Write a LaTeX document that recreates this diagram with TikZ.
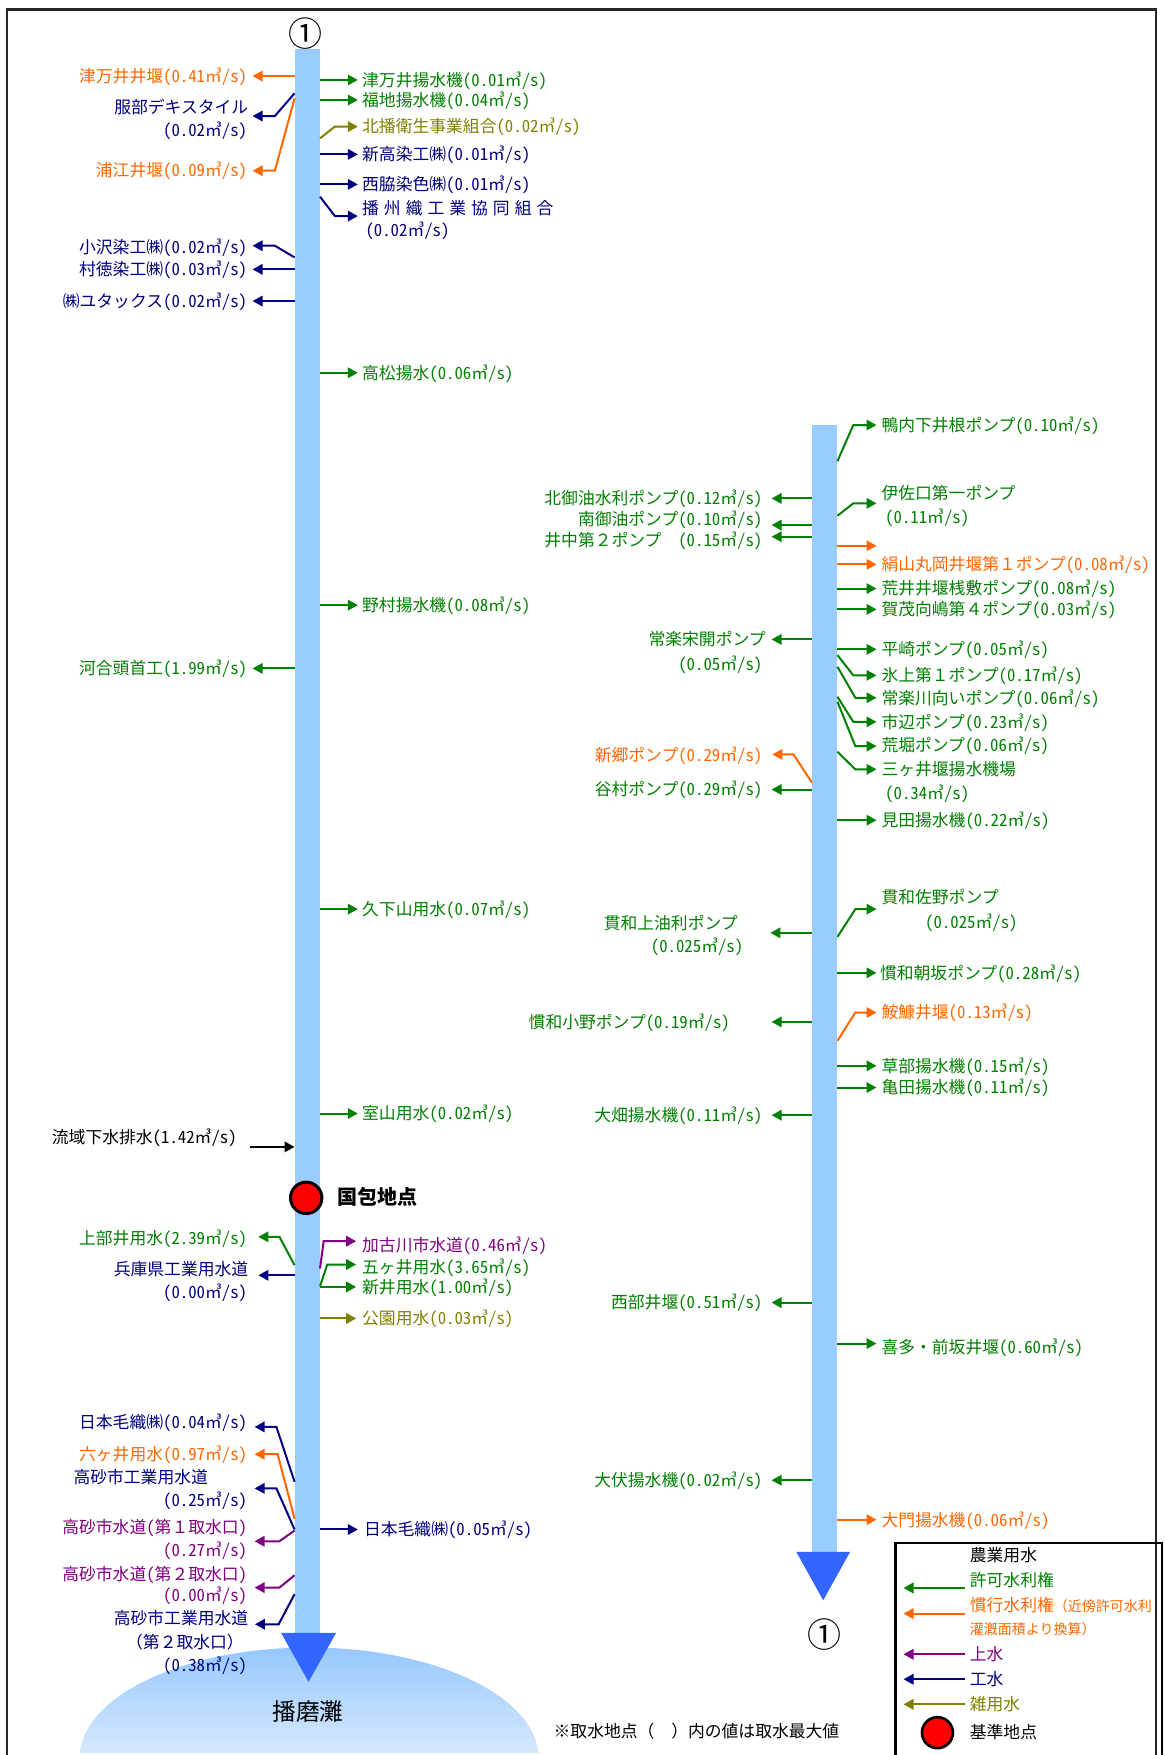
\documentclass[tikz,border=0pt]{standalone}
\usepackage{fontspec}
\setmainfont{Noto Sans CJK JP}
\newfontfamily\hw{Noto Sans CJK JP}[RawFeature=+hwid]
\usetikzlibrary{arrows.meta}
\definecolor{grn}{RGB}{0,128,0}
\definecolor{org}{RGB}{255,102,0}
\definecolor{pur}{RGB}{128,0,128}
\definecolor{nav}{RGB}{0,0,128}
\definecolor{olv}{RGB}{128,128,0}
\definecolor{riv}{RGB}{153,204,255}
\definecolor{tipb}{RGB}{51,102,255}
\definecolor{seatop}{RGB}{150,200,255}
\definecolor{seabot}{RGB}{218,234,255}
\newcommand\fs{\fontsize{8.4pt}{10pt}\selectfont}
\newcommand\q[1]{{\hw(#1}㎥{\hw/s)}}
\newcommand\hwp[1]{{\hw#1}}
\newcommand\rlab[7]{\coordinate (#1t) at (#4,#5);
  \node[lab,text=#2,anchor=west] (#1) at (#6,#5) {#7};
  \draw[arr,#2] (#3.east |- #1t) -- (#1t);}
\newcommand\llab[7]{\coordinate (#1t) at (#4,#5);
  \node[lab,text=#2,anchor=east] (#1) at (#6,#5) {#7};
  \draw[arr,#2] (#3.west |- #1t) -- (#1t);}
\tikzset{
  lab/.style={inner sep=0pt,font=\fs,text height=7.4pt,text depth=1pt},
  arr/.style={line width=1pt,-{Triangle[length=5pt,width=5.2pt]}},
  river/.style={fill=riv,inner sep=0pt,minimum width=12.32pt,anchor=north west},
  circnum/.style={font=\fontsize{17pt}{19pt}\selectfont,inner sep=0pt},
}
\begin{document}
\begin{tikzpicture}[x=0.56pt,y=-0.56pt]
\useasboundingbox (0,0) rectangle (1040.18,1566.96);
\clip (0,0) rectangle (1040.18,1566.96);

% frame
\draw[line width=1.2pt,black!85] (6.2,1600) -- (6.2,8.3) -- (1032,8.3) -- (1032,1600);

% sea
\begin{scope}
\clip (0,0) rectangle (1040,1564.5);
\shade[top color=seatop,bottom color=seabot] (71,1570) arc[start angle=180,end angle=360,x radius=205,y radius=99] -- cycle;
\end{scope}
\node[font=\fontsize{11.8pt}{13pt}\selectfont,inner sep=0pt] (sea) at (275,1528) {播磨灘};

% rivers
\node[river,minimum height=792.4pt] (L) at (263,43) {};
\fill[tipb] (251,1458) -- (300,1458) -- (275.5,1501.6) -- cycle;
\node[river,minimum height=563.4pt] (R) at (725,379.5) {};
\fill[tipb] (711,1385.6) -- (759,1385.6) -- (735,1428.9) -- cycle;
\node[circnum] (c1a) at (272.4,30.2) {①};
\node[circnum] (c1b) at (736.5,1459.5) {①};

% ---------- left river, right side ----------
\rlab{r1}{grn}{L}{319.5}{71.4}{323}{津万井揚水機\q{0.01}}
\rlab{r2}{grn}{L}{319.5}{89.3}{323}{福地揚水機\q{0.04}}
\coordinate (r3t) at (319.5,113);
\node[lab,text=olv,anchor=west] (r3) at (323,113) {北播衛生事業組合\q{0.02}};
\draw[arr,olv] (L.east |- 0,123.5) -- (299,113) -- (r3t);
\rlab{r4}{nav}{L}{319.5}{137.8}{323}{新高染工㈱\q{0.01}}
\rlab{r5}{nav}{L}{319.5}{164.6}{323}{西脇染色㈱\q{0.01}}
\coordinate (r6t) at (319.5,192.9);
\node[lab,text=nav,anchor=west] (r6) at (323,186) {播\kern2.5pt州\kern2.5pt織\kern2.5pt工\kern2.5pt業\kern2.5pt協\kern2.5pt同\kern2.5pt組\kern2.5pt合};
\node[lab,text=nav,anchor=west] (r6b) at (326,205.4) {\q{0.02}};
\draw[arr,nav] (L.east |- 0,175.6) -- (299,192.9) -- (r6t);
\rlab{r7}{grn}{L}{319.5}{332.8}{323}{高松揚水\q{0.06}}
\rlab{r8}{grn}{L}{319.5}{540.3}{323}{野村揚水機\q{0.08}}
\rlab{r9}{grn}{L}{319.5}{811.7}{323}{久下山用水\q{0.07}}
\rlab{r10}{grn}{L}{319.5}{994.2}{323}{室山用水\q{0.02}}
\coordinate (r11t) at (318,1108.2);
\node[lab,text=pur,anchor=west] (r11) at (323,1111.8) {加古川市水道\q{0.46}};
\draw[arr,pur] (L.east |- 0,1132.6) -- (289,1108.2) -- (r11t);
\coordinate (r12t) at (318,1129);
\node[lab,text=grn,anchor=west] (r12) at (323,1131) {五ヶ井用水\q{3.65}};
\draw[arr,grn] (L.east |- 0,1148.4) -- (292.2,1129) -- (r12t);
\rlab{r13}{grn}{L}{318}{1149}{323}{新井用水\q{1.00}}
\rlab{r14}{olv}{L}{318}{1177.2}{323}{公園用水\q{0.03}}
\rlab{r15}{nav}{L}{319.5}{1365.6}{324.7}{日本毛織㈱\q{0.05}}

% ---------- left river, left side ----------
\llab{l1}{org}{L}{225.5}{67.9}{221}{津万井井堰\q{0.41}}
\coordinate (l2t) at (225.5,103.6);
\node[lab,text=nav,anchor=east] (l2) at (222,95.2) {服部デキスタイル};
\node[lab,text=nav,anchor=east] (l2b) at (221,116) {\q{0.02}};
\draw[arr,nav] (L.west |- 0,83.3) -- (245.4,103.6) -- (l2t);
\coordinate (l3t) at (225.5,152.4);
\node[lab,text=org,anchor=east] (l3) at (221,151.8) {浦江井堰\q{0.09}};
\draw[arr,org] (L.west |- 0,87.8) -- (245.4,152.4) -- (l3t);
\coordinate (l4t) at (225.5,219.4);
\node[lab,text=nav,anchor=east] (l4) at (221,220.3) {小沢染工㈱\q{0.02}};
\draw[arr,nav] (L.west |- 0,229.8) -- (245.4,219.4) -- (l4t);
\llab{l5}{nav}{L}{225.5}{240.5}{221}{村徳染工㈱\q{0.03}}
\llab{l6}{nav}{L}{225.5}{268.8}{221}{㈱ユタックス\q{0.02}}
\llab{l7}{grn}{L}{225.5}{596.8}{221}{河合頭首工\q{1.99}}
\coordinate (l8s) at (222.8,1024);
\node[lab,anchor=west] (l8) at (46,1015) {流域下水排水\q{1.42}};
\draw[arr,black] (l8s) -- (L.west |- l8s);
% reference point
\node[circle,fill=red,draw=black,line width=1.5pt,minimum size=15.7pt,inner sep=0pt] (kp) at (273.4,1069.5) {};
\node[lab,anchor=west,font=\fontsize{10pt}{12pt}\selectfont\bfseries] (kpl) at (300.7,1070) {国包地点};
\coordinate (l9t) at (230.7,1104.3);
\node[lab,text=grn,anchor=east] (l9) at (221,1105) {上部井用水\q{2.39}};
\draw[arr,grn] (L.west |- 0,1129.6) -- (249.5,1104.3) -- (l9t);
\coordinate (l10t) at (230.7,1138.6);
\node[lab,text=nav,anchor=east] (l10) at (222,1133.5) {兵庫県工業用水道};
\node[lab,text=nav,anchor=east] (l10b) at (221,1153.5) {\q{0.00}};
\draw[arr,nav] (L.west |- l10t) -- (l10t);
\coordinate (l11t) at (227.3,1274);
\node[lab,text=nav,anchor=east] (l11) at (221,1269.5) {日本毛織㈱\q{0.04}};
\draw[arr,nav] (L.west |- 0,1323) -- (246.8,1274) -- (l11t);
\coordinate (l12t) at (227.3,1298.4);
\node[lab,text=org,anchor=east] (l12) at (221,1298) {六ヶ井用水\q{0.97}};
\draw[arr,org] (L.west |- 0,1356) -- (247.9,1298.4) -- (l12t);
\coordinate (l13t) at (227.3,1328.9);
\node[lab,text=nav,anchor=east] (l13) at (186,1318.7) {高砂市工業用水道};
\node[lab,text=nav,anchor=east] (l13b) at (221,1339.5) {\q{0.25}};
\draw[arr,nav] (L.west |- 0,1365.6) -- (246.8,1328.9) -- (l13t);
\coordinate (l14t) at (227.3,1376.1);
\node[lab,text=pur,anchor=east] (l14) at (221,1363.3) {高砂市水道\hwp{(}第１取水口\hwp{)}};
\node[lab,text=pur,anchor=east] (l14b) at (221,1384) {\q{0.27}};
\draw[arr,pur] (L.west |- 0,1366.5) -- (249.5,1376.1) -- (l14t);
\coordinate (l15t) at (227.3,1417.5);
\node[lab,text=pur,anchor=east] (l15) at (221,1405) {高砂市水道\hwp{(}第２取水口\hwp{)}};
\node[lab,text=pur,anchor=east] (l15b) at (221,1424) {\q{0.00}};
\draw[arr,pur] (L.west |- 0,1406.5) -- (249.5,1417.5) -- (l15t);
\coordinate (l16t) at (227.6,1450.2);
\node[lab,text=nav,anchor=east] (l16) at (222,1445) {高砂市工業用水道};
\node[lab,text=nav,anchor=east] (l16b) at (218,1466) {（第２取水口）};
\node[lab,text=nav,anchor=east] (l16c) at (221,1487) {\q{0.38}};
\draw[arr,nav] (L.west |- 0,1423.4) -- (248.8,1450.2) -- (l16t);

% ---------- right river, right side ----------
\coordinate (a1t) at (782.6,379.5);
\node[lab,text=grn,anchor=west] (a1) at (786.7,379.5) {鴨内下井根ポンプ\q{0.10}};
\draw[arr,grn] (R.east |- 0,411.7) -- (761.9,379.5) -- (a1t);
\coordinate (a2t) at (782.6,449.4);
\node[lab,text=grn,anchor=west] (a2) at (786.7,440.5) {伊佐口第一ポンプ};
\node[lab,text=grn,anchor=west] (a2b) at (790,461.4) {\q{0.11}};
\draw[arr,grn] (R.east |- 0,460.5) -- (761.9,449.4) -- (a2t);
\coordinate (a3t) at (782.6,487.3);
\draw[arr,org] (R.east |- a3t) -- (a3t);
\rlab{a4}{org}{R}{782.6}{503.9}{786.7}{絹山丸岡井堰第１ポンプ\q{0.08}}
\rlab{a5}{grn}{R}{782.6}{525.5}{786.7}{荒井井堰桟敷ポンプ\q{0.08}}
\rlab{a6}{grn}{R}{782.6}{544.1}{786.7}{賀茂向嶋第４ポンプ\q{0.03}}
\rlab{a7}{grn}{R}{782.6}{579.8}{786.7}{平崎ポンプ\q{0.05}}
\coordinate (a8t) at (782.6,603);
\node[lab,text=grn,anchor=west] (a8) at (786.7,603) {氷上第１ポンプ\q{0.17}};
\draw[arr,grn] (R.east |- 0,584.9) -- (761.9,603) -- (a8t);
\coordinate (a9t) at (782.6,623);
\node[lab,text=grn,anchor=west] (a9) at (786.7,623) {常楽川向いポンプ\q{0.06}};
\draw[arr,grn] (R.east |- 0,595.3) -- (763.7,623) -- (a9t);
\coordinate (a10t) at (782.6,644.5);
\node[lab,text=grn,anchor=west] (a10) at (786.7,644.5) {市辺ポンプ\q{0.23}};
\draw[arr,grn] (R.east |- 0,622.1) -- (761.9,644.5) -- (a10t);
\coordinate (a11t) at (782.6,666.2);
\node[lab,text=grn,anchor=west] (a11) at (786.7,665.5) {荒堀ポンプ\q{0.06}};
\draw[arr,grn] (R.east |- 0,626.6) -- (763.7,666.2) -- (a11t);
\coordinate (a12t) at (782.6,686.9);
\node[lab,text=grn,anchor=west] (a12) at (786.7,686.9) {三ヶ井堰揚水機場};
\node[lab,text=grn,anchor=west] (a12b) at (790,708.4) {\q{0.34}};
\draw[arr,grn] (R.east |- 0,671.2) -- (763.7,686.9) -- (a12t);
\rlab{a13}{grn}{R}{782.6}{732.3}{786.7}{見田揚水機\q{0.22}}
\coordinate (a14t) at (782.6,811.7);
\node[lab,text=grn,anchor=west] (a14) at (786.7,801.3) {貫和佐野ポンプ};
\node[lab,text=grn,anchor=west] (a14b) at (825.7,823) {\q{0.025}};
\draw[arr,grn] (R.east |- 0,836.5) -- (763.7,811.7) -- (a14t);
\rlab{a15}{grn}{R}{782.6}{868.6}{785.4}{慣和朝坂ポンプ\q{0.28}}
\coordinate (a16t) at (782.6,904);
\node[lab,text=org,anchor=west] (a16) at (786.7,904) {鮟鱇井堰\q{0.13}};
\draw[arr,org] (R.east |- 0,929.3) -- (763.7,904) -- (a16t);
\rlab{a17}{grn}{R}{782.6}{951.6}{786.7}{草部揚水機\q{0.15}}
\rlab{a18}{grn}{R}{782.6}{971}{786.7}{亀田揚水機\q{0.11}}
\coordinate (a19t) at (782.6,1199.6);
\node[lab,text=grn,anchor=west] (a19) at (786.7,1202.6) {喜多・前坂井堰\q{0.60}};
\draw[arr,grn] (R.east |- a19t) -- (a19t);
\rlab{a20}{org}{R}{782.6}{1356.8}{786.7}{大門揚水機\q{0.06}}

% ---------- right river, left side ----------
\llab{b1}{grn}{R}{688.9}{445}{681}{北御油水利ポンプ\q{0.12}}
\coordinate (b2t) at (688.9,468.8);
\node[lab,text=grn,anchor=east] (b2) at (681,463.8) {南御油ポンプ\q{0.10}};
\draw[arr,grn] (R.west |- b2t) -- (b2t);
\coordinate (b3t) at (688.9,479.2);
\node[lab,text=grn,anchor=east] (b3) at (681,482.2) {井中第２ポンプ　\q{0.15}};
\draw[arr,grn] (R.west |- b3t) -- (b3t);
\coordinate (b4t) at (688.9,570.9);
\node[lab,text=grn,anchor=east] (b4) at (684,570.9) {常楽宋開ポンプ};
\node[lab,text=grn,anchor=east] (b4b) at (681,593.2) {\q{0.05}};
\draw[arr,grn] (R.west |- b4t) -- (b4t);
\coordinate (b5t) at (689.6,673.6);
\node[lab,text=org,anchor=east] (b5) at (681,674) {新郷ポンプ\q{0.29}};
\draw[arr,org] (R.west |- 0,698.9) -- (708.5,673.6) -- (b5t);
\llab{b6}{grn}{R}{688.9}{704.9}{681}{谷村ポンプ\q{0.29}}
\coordinate (b7t) at (687.9,832.9);
\node[lab,text=grn,anchor=east] (b7) at (659,824) {貫和上油利ポンプ};
\node[lab,text=grn,anchor=east] (b7b) at (664,844.5) {\q{0.025}};
\draw[arr,grn] (R.west |- b7t) -- (b7t);
\llab{b8}{grn}{R}{688.9}{912.4}{652}{慣和小野ポンプ\q{0.19}}
\llab{b9}{grn}{R}{688.9}{995.7}{681}{大畑揚水機\q{0.11}}
\llab{b10}{grn}{R}{688.9}{1163}{681}{西部井堰\q{0.51}}
\llab{b11}{grn}{R}{688.9}{1321.6}{681}{大伏揚水機\q{0.02}}

% note
\node[lab,anchor=west] (note) at (494,1546) {※取水地点（　）内の値は取水最大値};

% ---------- legend ----------
\draw[line width=1.1pt] (799.5,1600) -- (799.5,1378) -- (1037.5,1378) -- (1037.5,1600);
\node[lab,anchor=west] (lg0) at (865.6,1388.6) {農業用水};
\node[lab,anchor=west,text=grn] (lg1) at (865.6,1411) {許可水利権};
\node[lab,anchor=west,text=org] (lg2) at (865.6,1433.3) {慣行水利権{\fontsize{7pt}{8pt}\selectfont （近傍許可水利}};
\node[lab,anchor=west,text=org,font=\fontsize{7pt}{8pt}\selectfont] (lg2b) at (865.6,1454) {灌漑面積より換算）};
\node[lab,anchor=west,text=pur] (lg3) at (865.6,1476.5) {上水};
\node[lab,anchor=west,text=nav] (lg4) at (865.6,1498.8) {工水};
\node[lab,anchor=west,text=olv] (lg5) at (865.6,1521.7) {雑用水};
\node[lab,anchor=west] (lg6) at (865.6,1546.4) {基準地点};
\coordinate (lg1s) at (861.7,1417.8); \coordinate (lg1e) at (806.7,1417.8);
\coordinate (lg2s) at (861.7,1440.7); \coordinate (lg2e) at (806.7,1440.7);
\coordinate (lg3s) at (861.7,1477);   \coordinate (lg3e) at (806.7,1477);
\coordinate (lg4s) at (861.7,1499.3); \coordinate (lg4e) at (806.7,1499.3);
\coordinate (lg5s) at (861.7,1521.7); \coordinate (lg5e) at (806.7,1521.7);
\draw[arr,grn] (lg1s) -- (lg1e);
\draw[arr,org] (lg2s) -- (lg2e);
\draw[arr,pur] (lg3s) -- (lg3e);
\draw[arr,nav] (lg4s) -- (lg4e);
\draw[arr,olv] (lg5s) -- (lg5e);
\node[circle,fill=red,draw=black,line width=1.3pt,minimum size=15.5pt,inner sep=0pt] (lgc) at (837,1547) {};
\end{tikzpicture}
\end{document}
